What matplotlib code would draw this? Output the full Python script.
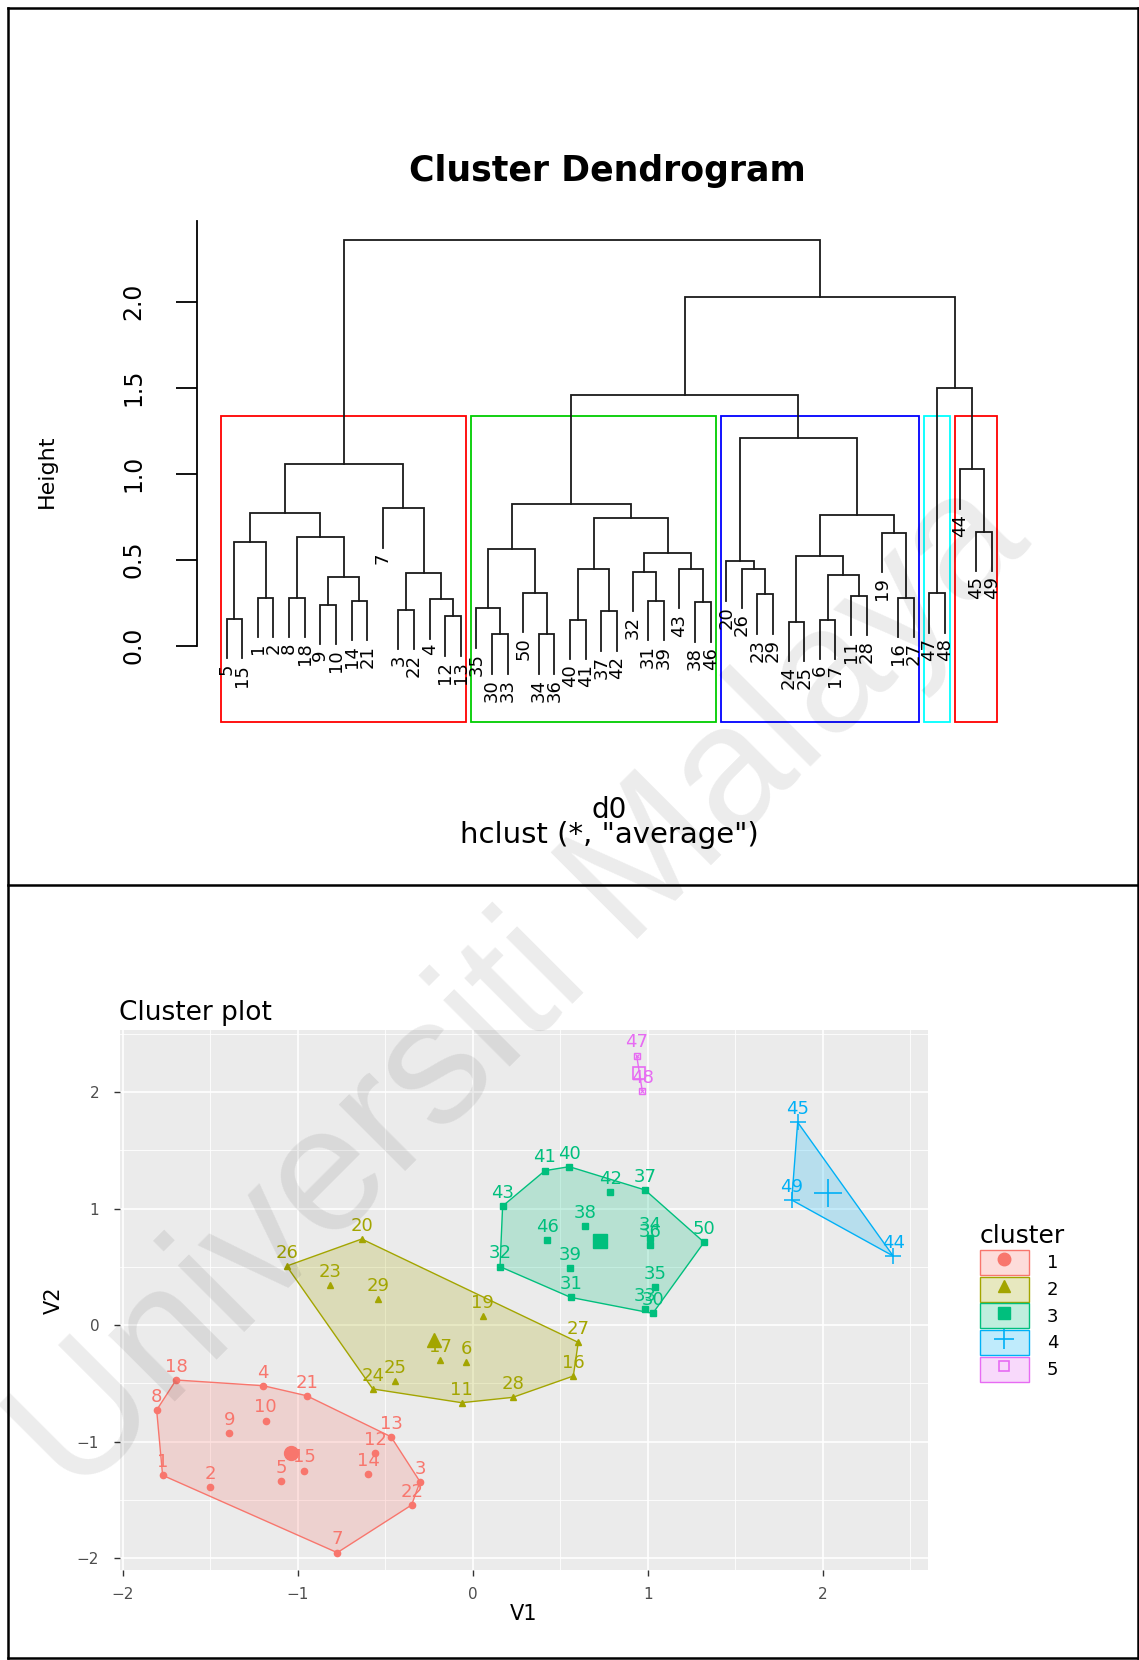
import matplotlib
matplotlib.use("Agg")
import matplotlib.pyplot as plt
import numpy as np
from matplotlib.patches import Rectangle, Polygon, Patch
from matplotlib.lines import Line2D

plt.rcParams['font.family'] = ['DejaVu Sans']

# ---- dendrogram data, hclust(d0, "average") ----
# one row per merge: negative = observation number, positive = earlier row (1-based)
merge_a = [-5, -1, 1, -8, -9, -14, 5, 4, 3, -3, -12, -4, 10, -7, 9,
           -30, -35, -34, -50, 17, -40, -37, 21, -31, -32, -38, -43, 25, 23, 20,
           -23, -26, -20, -24, -6, -11, 35, 34, -16, -19, 38, 33, 30,
           -47, -45, -44, 44, 43, 15]
merge_b = [-15, -2, 2, -18, -10, -21, 6, 7, 8, -22, -13, 11, 12, 13, 14,
           -33, 16, -36, 18, 19, -41, -42, 22, -39, 24, -46, 26, 27, 28, 29,
           -29, 31, 32, -25, -17, -28, 36, 37, -27, 39, 40, 41, 42,
           -48, -49, 45, 46, 47, 48]
merge_h = [0.155, 0.28, 0.60, 0.28, 0.237, 0.26, 0.40, 0.63, 0.77, 0.21, 0.17, 0.27, 0.425, 0.80, 1.055,
           0.066, 0.217, 0.066, 0.308, 0.56, 0.15, 0.20, 0.446, 0.26, 0.43, 0.252, 0.446, 0.537, 0.74, 0.822,
           0.30, 0.446, 0.49, 0.14, 0.15, 0.29, 0.41, 0.523, 0.28, 0.657, 0.76, 1.21, 1.458,
           0.305, 0.663, 1.025, 1.50, 2.025, 2.36]
n_groups = 5
box_colors = ['#FF0000', '#00CD00', '#0000FF', '#00FFFF', '#FF0000']
height_ticks = [0.0, 0.5, 1.0, 1.5, 2.0]

# ---- cluster plot data (obs 1..50) ----
obs_v1 = [-1.772, -1.501, -0.301, -1.197, -1.095, -0.038, -0.774, -1.806, -1.391, -1.183,
          -0.063, -0.558, -0.467, -0.597, -0.964, 0.575, -0.187, -1.695, 0.057, -0.634,
          -0.949, -0.349, -0.815, -0.571, -0.444, -1.063, 0.603, 0.229, -0.539, 1.029,
          0.560, 0.156, 0.985, 1.013, 1.042, 1.013, 0.985, 0.642, 0.556, 0.552,
          0.413, 0.785, 0.171, 2.403, 1.857, 0.426, 0.937, 0.969, 1.823, 1.322]
obs_v2 = [-1.290, -1.393, -1.345, -0.521, -1.339, -0.315, -1.954, -0.730, -0.930, -0.821,
          -0.667, -1.101, -0.959, -1.279, -1.250, -0.438, -0.300, -0.472, 0.077, 0.738,
          -0.607, -1.545, 0.343, -0.549, -0.478, 0.506, -0.149, -0.621, 0.220, 0.100,
          0.237, 0.501, 0.137, 0.744, 0.323, 0.687, 1.159, 0.852, 0.492, 1.359,
          1.325, 1.139, 1.021, 0.592, 1.740, 0.730, 2.312, 2.009, 1.073, 0.710]
obs_cluster = [1, 1, 1, 1, 1, 2, 1, 1, 1, 1,
               2, 1, 1, 1, 1, 2, 2, 1, 2, 2,
               1, 1, 2, 2, 2, 2, 2, 2, 2, 3,
               3, 3, 3, 3, 3, 3, 3, 3, 3, 3,
               3, 3, 3, 4, 4, 3, 5, 5, 4, 3]
cluster_colors = ['#F8766D', '#A3A500', '#00BF7D', '#00B0F6', '#E76BF3']
cluster_markers = ['o', '^', 's', '+', 's']
axis_ticks = [-2, -1, 0, 1, 2]

W, H = 1139, 1660
fig = plt.figure(figsize=(W / 100, H / 100), dpi=100)

def fx(px):
    return px / W

def fy(py):
    return 1 - py / H

# ================= dendrogram =================
ax = fig.add_axes([fx(197), fy(722.2), fx(1015) - fx(197), fy(220.9) - fy(722.2)])
ax.set_xlim(-0.9, 51.5)
ax.set_ylim(-0.445, 2.47)

def leaf_order(node):
    if node < 0:
        return [-node]
    return leaf_order(merge_a[node - 1]) + leaf_order(merge_b[node - 1])

order = leaf_order(len(merge_h))
pos = {o: k + 1 for k, o in enumerate(order)}
hang = 0.1 * (max(merge_h) - min(merge_h))
xc = [0.0] * len(merge_h)

for i, h in enumerate(merge_h):
    ends = []
    for child in (merge_a[i], merge_b[i]):
        if child < 0:
            x, y = pos[-child], h - hang
            ax.text(x, y - 0.03, str(-child), rotation=90, rotation_mode='anchor',
                    ha='right', va='center', fontsize=13)
        else:
            x, y = xc[child - 1], merge_h[child - 1]
        ends.append((x, y))
    (xa, ya), (xb, yb) = ends
    xc[i] = (xa + xb) / 2
    ax.plot([xa, xa, xb, xb], [ya, h, h, yb], color='#1a1a1a', lw=1.3,
            solid_joinstyle='miter')

# rect.hclust boxes
desc = sorted(range(len(merge_h)), key=lambda r: -merge_h[r])[:n_groups - 1]
top_rows = set(r + 1 for r in desc)
groups = []
for r in top_rows:
    for child in (merge_a[r - 1], merge_b[r - 1]):
        if child not in top_rows:
            groups.append(leaf_order(child))
groups.sort(key=lambda g: min(pos[o] for o in g))
hs = sorted(merge_h, reverse=True)
box_top = (hs[n_groups - 2] + hs[n_groups - 1]) / 2
start = 0
for g, col in zip(groups, box_colors):
    end = start + len(g)
    ax.add_patch(Rectangle((start + 0.66, -0.445), end + 0.33 - start - 0.66, box_top + 0.445,
                           fill=False, edgecolor=col, lw=1.3, clip_on=False))
    start = end

for s in ['top', 'right', 'bottom']:
    ax.spines[s].set_visible(False)
ax.spines['left'].set_bounds(0, 2.47)
ax.spines['left'].set_linewidth(1.3)
ax.set_xticks([])
ax.set_yticks(height_ticks)
ax.set_yticklabels([f"{t:.1f}" for t in height_ticks])
ax.tick_params(axis='y', length=15, width=1.3, labelsize=17, labelrotation=90, pad=22)
for lbl in ax.get_yticklabels():
    lbl.set_va('center')

fig.text(fx(607), fy(171), 'Cluster Dendrogram', fontsize=25, fontweight='bold',
         ha='center', va='center')
fig.text(fx(47), fy(471), 'Height', fontsize=16, rotation=90, ha='center', va='center')
fig.text(fx(609), fy(810), 'd0', fontsize=20, ha='center', va='center')
fig.text(fx(609), fy(835), 'hclust (*, "average")', fontsize=21, ha='center', va='center')

# ================= cluster plot =================
bx = fig.add_axes([fx(120), fy(1570), fx(928) - fx(120), fy(1030) - fy(1570)])
x0 = (120 - 472.7) / 175
x1 = (928 - 472.7) / 175
y0 = (1325 - 1570) / 116.5
y1 = (1325 - 1030) / 116.5
bx.set_xlim(x0, x1)
bx.set_ylim(y0, y1)
bx.set_facecolor('#EBEBEB')
bx.set_xticks(axis_ticks)
bx.set_yticks(axis_ticks)
bx.set_xticks([-1.5, -0.5, 0.5, 1.5, 2.5], minor=True)
bx.set_yticks([-1.5, -0.5, 0.5, 1.5, 2.5], minor=True)
bx.grid(which='major', color='white', lw=1.2)
bx.grid(which='minor', color='white', lw=0.6)
bx.set_axisbelow(True)
for s in bx.spines.values():
    s.set_visible(False)
bx.tick_params(which='major', length=4, width=1, color='#333333', labelcolor='#4D4D4D',
               labelsize=11)
bx.tick_params(axis='x', pad=8)
bx.tick_params(axis='y', pad=11)
bx.tick_params(which='minor', length=0)

v1 = np.array(obs_v1)
v2 = np.array(obs_v2)
cl = np.array(obs_cluster)

def convex_hull(pts):
    pts = sorted(map(tuple, pts))
    if len(pts) < 3:
        return pts
    def cross(o, a, b):
        return (a[0] - o[0]) * (b[1] - o[1]) - (a[1] - o[1]) * (b[0] - o[0])
    lower, upper = [], []
    for p in pts:
        while len(lower) >= 2 and cross(lower[-2], lower[-1], p) <= 0:
            lower.pop()
        lower.append(p)
    for p in reversed(pts):
        while len(upper) >= 2 and cross(upper[-2], upper[-1], p) <= 0:
            upper.pop()
        upper.append(p)
    return lower[:-1] + upper[:-1]

for k in range(1, 6):
    col = cluster_colors[k - 1]
    mk = cluster_markers[k - 1]
    sel = cl == k
    pts = np.column_stack([v1[sel], v2[sel]])
    hpts = convex_hull(pts)
    bx.add_patch(Polygon(hpts, closed=True, facecolor=col, alpha=0.22, edgecolor='none'))
    bx.add_patch(Polygon(hpts, closed=True, fill=False, edgecolor=col, lw=1.0))
    if k == 5:
        bx.plot(v1[sel], v2[sel], ls='', marker='s', ms=5, mfc='none', mec=col, mew=1.0)
        bx.plot(v1[sel], v2[sel], ls='', marker='x', ms=3.5, color=col, mew=0.8)
        bx.plot(pts[:, 0].mean(), pts[:, 1].mean(), ls='', marker='s', ms=9, mfc='none',
                mec=col, mew=1.2)
    elif mk == '+':
        bx.plot(v1[sel], v2[sel], ls='', marker='+', ms=11, color=col, mew=1.1)
        bx.plot(pts[:, 0].mean(), pts[:, 1].mean(), ls='', marker='+', ms=20, color=col, mew=1.2)
    else:
        bx.plot(v1[sel], v2[sel], ls='', marker=mk, ms=4.5, color=col)
        bx.plot(pts[:, 0].mean(), pts[:, 1].mean(), ls='', marker=mk, ms=10, color=col)
    for idx in np.where(sel)[0]:
        bx.annotate(str(idx + 1), (v1[idx], v2[idx]), xytext=(0, 3), textcoords='offset points',
                    ha='center', va='bottom', color=col, fontsize=13)

bx.set_xlabel('V1', fontsize=15, labelpad=2)
bx.set_ylabel('V2', fontsize=15, labelpad=9)
fig.text(fx(119), fy(1013), 'Cluster plot', fontsize=19, ha='left', va='center')

handles = []
for k in range(5):
    col = cluster_colors[k]
    patch = Patch(facecolor=matplotlib.colors.to_rgba(col, 0.25), edgecolor=col, lw=1.0)
    if k == 4:
        mark = Line2D([], [], ls='', marker='s', ms=7, mfc='none', mec=col, mew=1.2)
    elif cluster_markers[k] == '+':
        mark = Line2D([], [], ls='', marker='+', ms=14, color=col, mew=1.2)
    else:
        mark = Line2D([], [], ls='', marker=cluster_markers[k], ms=9, color=col)
    handles.append((patch, mark))
leg = fig.legend(handles, ['1', '2', '3', '4', '5'], title='cluster', loc='upper left',
                 bbox_to_anchor=(fx(980), fy(1224)), frameon=False, fontsize=13,
                 title_fontsize=18, handlelength=2.7, handleheight=1.75, labelspacing=0.1,
                 handletextpad=1.0, borderpad=0, borderaxespad=0, alignment='left')

# ================= page borders and watermark =================
for (xa, ya, xb, yb) in [(8, 8, 1138, 8), (8, 885, 1138, 885), (8, 1658, 1138, 1658),
                         (8, 8, 8, 1658), (1138, 8, 1138, 1658)]:
    fig.add_artist(Line2D([fx(xa), fx(xb)], [fy(ya), fy(yb)], color='black', lw=1.8))

fig.text(fx(522), fy(990), 'Universiti Malaya', fontsize=128, family='Liberation Sans',
         rotation=45, ha='center', va='center', color='black', alpha=0.08, zorder=20)

fig.savefig('out.png', dpi=100)
